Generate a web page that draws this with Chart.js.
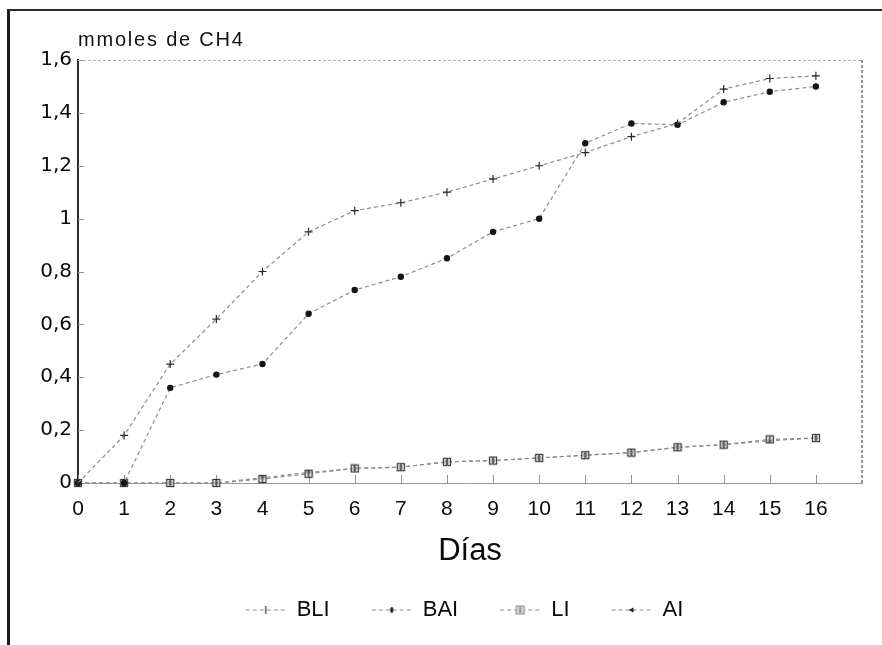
<!DOCTYPE html>
<html>
<head>
<meta charset="utf-8">
<script src="https://cdn.jsdelivr.net/npm/chart.js@4"></script>
<style>
  html, body { margin: 0; padding: 0; background: #ffffff; }
  #wrap { position: relative; width: 882px; height: 645px; overflow: hidden; background: #fff; }
  #frame { position: absolute; left: 7px; top: 9px; width: 900px; height: 700px;
           border-left: 3px solid #1c1c1c; border-top: 2px solid #2a2a2a; }
  #c { position: absolute; left: 0; top: 0; }
</style>
</head>
<body>
<div id="wrap">
  <div id="frame"></div>
  <canvas id="c" width="882" height="645"></canvas>
</div>
<script>
// Days of incubation
const days = [0, 1, 2, 3, 4, 5, 6, 7, 8, 9, 10, 11, 12, 13, 14, 15, 16];

// Accumulated methane (mmoles de CH4) for each treatment
const BLI = [0, 0.18, 0.45, 0.62, 0.80, 0.95, 1.03, 1.06, 1.10, 1.15, 1.20, 1.25, 1.31, 1.36, 1.49, 1.53, 1.54];
const BAI = [0, 0, 0.36, 0.41, 0.45, 0.64, 0.73, 0.78, 0.85, 0.95, 1.00, 1.285, 1.36, 1.355, 1.44, 1.48, 1.50];
const LI  = [0, 0, 0, 0, 0.015, 0.035, 0.055, 0.06, 0.08, 0.085, 0.095, 0.105, 0.115, 0.135, 0.145, 0.165, 0.17];
const AI  = [0, 0, 0, 0, 0.02, 0.04, 0.055, 0.06, 0.08, 0.085, 0.095, 0.105, 0.115, 0.135, 0.145, 0.16, 0.17];

// Axis ticks
const xTickValues = [0, 1, 2, 3, 4, 5, 6, 7, 8, 9, 10, 11, 12, 13, 14, 15, 16];
const xTickLabels = ['0', '1', '2', '3', '4', '5', '6', '7', '8', '9', '10', '11', '12', '13', '14', '15', '16'];
const yTickValues = [0, 0.2, 0.4, 0.6, 0.8, 1.0, 1.2, 1.4, 1.6];
const yTickLabels = ['0', '0,2', '0,4', '0,6', '0,8', '1', '1,2', '1,4', '1,6'];

const seriesNames = ['BLI', 'BAI', 'LI', 'AI'];

const LINE_GRAY = '#8d8d8d';
const DASH = [4, 3];

// Small hollow square with a centre stroke, used for LI
function squareMarker() {
  const c = document.createElement('canvas');
  c.width = 10; c.height = 10;
  const g = c.getContext('2d');
  g.fillStyle = 'rgba(255,255,255,0.6)';
  g.fillRect(1.5, 1.5, 7, 7);
  g.strokeStyle = '#3a3a3a'; g.lineWidth = 1.3;
  g.strokeRect(1.5, 1.5, 7, 7);
  g.beginPath(); g.moveTo(5, 1.5); g.lineTo(5, 8.5); g.stroke();
  return c;
}

// Legend swatch: dashed line segment with the series marker in its middle
function legendSwatch(kind) {
  const w = 72, h = 14, x0 = 32, x1 = 72, cx = 52, cy = 7;
  const c = document.createElement('canvas');
  c.width = w; c.height = h;
  const g = c.getContext('2d');
  g.strokeStyle = LINE_GRAY; g.lineWidth = 1.2; g.setLineDash(DASH);
  g.beginPath(); g.moveTo(x0, cy); g.lineTo(x1, cy); g.stroke();
  g.setLineDash([]);
  if (kind === 'BLI') {
    g.strokeStyle = '#333'; g.lineWidth = 1.2;
    g.beginPath(); g.moveTo(cx, cy - 4); g.lineTo(cx, cy + 4); g.stroke();
  } else if (kind === 'BAI') {
    g.fillStyle = '#222';
    g.beginPath(); g.ellipse(cx, cy, 1.6, 3, 0, 0, Math.PI * 2); g.fill();
  } else if (kind === 'LI') {
    g.fillStyle = '#d6d6d6'; g.fillRect(cx - 4, cy - 4, 8, 8);
    g.strokeStyle = '#8a8a8a'; g.lineWidth = 1; g.strokeRect(cx - 4, cy - 4, 8, 8);
    g.strokeStyle = '#555'; g.beginPath(); g.moveTo(cx, cy - 3); g.lineTo(cx, cy + 3); g.stroke();
  } else {
    g.fillStyle = '#222';
    g.beginPath(); g.moveTo(cx - 3, cy); g.lineTo(cx + 2, cy - 2.5); g.lineTo(cx + 2, cy + 2.5); g.closePath(); g.fill();
  }
  return c;
}

const swatches = Object.fromEntries(seriesNames.map(n => [n, legendSwatch(n)]));

function series(label, values, extra) {
  return Object.assign({
    label,
    data: days.map((d, i) => ({ x: d, y: values[i] })),
    borderColor: LINE_GRAY,
    borderWidth: 1.2,
    borderDash: DASH,
    backgroundColor: 'transparent',
    tension: 0,
    clip: false,
    pointBorderWidth: 1.2
  }, extra);
}

// Inside tick marks, the dashed top/right frame of the plot area and the unit label
const plotFrame = {
  id: 'plotFrame',
  beforeDatasetsDraw(chart) {
    const { ctx, chartArea: a, scales: { x, y } } = chart;
    ctx.save();
    ctx.strokeStyle = '#8f8f8f';
    ctx.lineWidth = 1;
    xTickValues.forEach(v => {
      const px = Math.round(x.getPixelForValue(v)) + 0.5;
      ctx.beginPath(); ctx.moveTo(px, a.bottom + 1); ctx.lineTo(px, a.bottom - 8); ctx.stroke();
    });
    yTickValues.forEach(v => {
      const py = Math.round(y.getPixelForValue(v)) + 0.5;
      ctx.beginPath(); ctx.moveTo(a.left, py); ctx.lineTo(a.left + 6, py); ctx.stroke();
    });
    ctx.setLineDash([3, 2]);
    ctx.strokeStyle = '#b0b0b0';
    ctx.beginPath(); ctx.moveTo(a.left, a.top + 0.5); ctx.lineTo(a.right, a.top + 0.5); ctx.stroke();
    ctx.strokeStyle = '#6f6f6f';
    ctx.lineWidth = 1.5;
    ctx.beginPath(); ctx.moveTo(a.right, a.top); ctx.lineTo(a.right, a.bottom); ctx.stroke();
    ctx.restore();
  },
  afterDraw(chart) {
    const { ctx, chartArea: a } = chart;
    ctx.save();
    ctx.font = '20px "Liberation Sans", Arial, sans-serif';
    ctx.fillStyle = '#111';
    ctx.textBaseline = 'alphabetic';
    ctx.textAlign = 'left';
    try { ctx.letterSpacing = '1.8px'; } catch (e) {}
    ctx.fillText('mmoles de CH4', a.left, 46);
    ctx.restore();
  }
};

Chart.defaults.font.family = '"Liberation Sans", Arial, sans-serif';
Chart.defaults.color = '#111';

new Chart(document.getElementById('c'), {
  type: 'line',
  data: {
    datasets: [
      series('BLI', BLI, { pointStyle: 'cross', pointRadius: 4, pointBorderColor: '#2a2a2a', pointBackgroundColor: '#2a2a2a' }),
      series('BAI', BAI, { pointStyle: 'circle', pointRadius: 2.6, pointBorderColor: '#151515', pointBackgroundColor: '#151515' }),
      series('LI', LI, { pointStyle: squareMarker(), pointRadius: 4 }),
      series('AI', AI, { pointStyle: 'circle', pointRadius: 1.8, pointBorderColor: '#151515', pointBackgroundColor: '#151515' })
    ]
  },
  options: {
    responsive: false,
    animation: false,
    layout: { padding: { left: 35, right: 20, top: 60, bottom: 14 } },
    scales: {
      x: {
        type: 'linear',
        min: 0,
        max: 17,
        afterFit: s => { s.height = 106; },
        afterBuildTicks: s => { s.ticks = xTickValues.map(v => ({ value: v })); },
        ticks: {
          autoSkip: false,
          maxRotation: 0,
          padding: 14,
          font: { size: 21 },
          color: '#0a0a0a',
          callback: (v, i) => xTickLabels[i]
        },
        grid: { drawOnChartArea: false, drawTicks: false },
        border: { display: true, color: '#9a9a9a', width: 1, dash: [3, 2] },
        title: { display: true, text: 'Días', font: { size: 31 }, color: '#0a0a0a', padding: { top: 0, bottom: 19 } }
      },
      y: {
        min: 0,
        max: 1.6,
        afterFit: s => { s.width = 43; },
        afterBuildTicks: s => { s.ticks = yTickValues.map(v => ({ value: v })); },
        ticks: {
          padding: 6,
          font: { family: '"DejaVu Sans", sans-serif', size: 20 },
          color: '#0a0a0a',
          callback: (v, i) => yTickLabels[i]
        },
        grid: { drawOnChartArea: false, drawTicks: false },
        border: { display: true, color: '#2a2a2a', width: 2 }
      }
    },
    plugins: {
      title: { display: false },
      tooltip: { enabled: false },
      legend: {
        position: 'bottom',
        labels: {
          usePointStyle: true,
          pointStyleWidth: 72,
          padding: 10,
          font: { size: 22 },
          color: '#0a0a0a',
          generateLabels(chart) {
            const items = Chart.defaults.plugins.legend.labels.generateLabels(chart);
            return items.map(it => Object.assign(it, { pointStyle: swatches[it.text], lineWidth: 0 }));
          }
        }
      }
    }
  },
  plugins: [plotFrame]
});
</script>
</body>
</html>
